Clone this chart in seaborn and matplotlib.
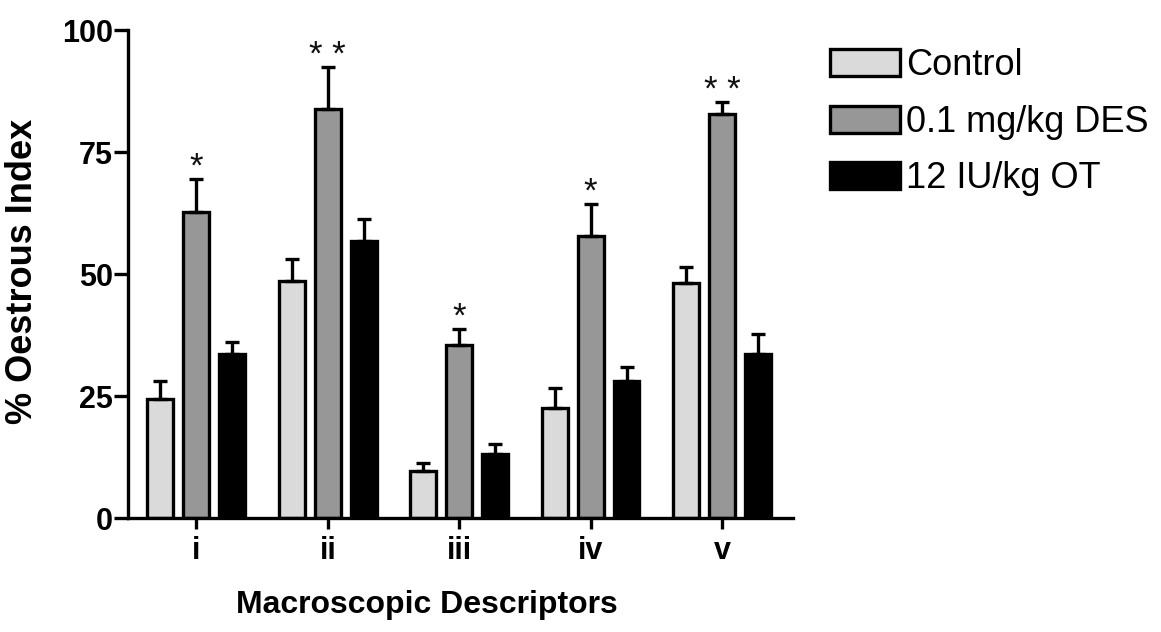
import matplotlib
matplotlib.use("Agg")
import matplotlib.pyplot as plt
from matplotlib.container import BarContainer
import seaborn as sns
import pandas as pd

# ---- data ----
categories = ["i", "ii", "iii", "iv", "v"]
groups = ["Control", "0.1 mg/kg DES", "12 IU/kg OT"]
control = [24.4, 48.6, 9.6, 22.5, 48.2]
control_err = [3.7, 4.5, 1.7, 4.1, 3.2]
des = [62.7, 83.8, 35.5, 57.8, 82.8]
des_err = [6.8, 8.6, 3.2, 6.5, 2.4]
ot = [33.6, 56.8, 13.1, 28.1, 33.6]
ot_err = [2.5, 4.5, 2.1, 2.8, 4.1]
des_stars = ["*", "**", "*", "*", "**"]
yticks = [0, 25, 50, 75, 100]

sns.set_style("ticks")
plt.rcParams["font.family"] = ["Liberation Sans", "DejaVu Sans"]
plt.rcParams["text.color"] = "black"
plt.rcParams["axes.labelcolor"] = "black"

values = [control, des, ot]
errors = [control_err, des_err, ot_err]
rows = []
for g, vals in zip(groups, values):
    for c, v in zip(categories, vals):
        rows.append({"descriptor": c, "group": g, "value": v})
df = pd.DataFrame(rows)

palette = {"Control": "#dadada", "0.1 mg/kg DES": "#979797", "12 IU/kg OT": "#000000"}

W, H = 1161, 632
fig = plt.figure(figsize=(W / 100, H / 100), dpi=100)
ax = fig.add_axes([128 / W, 1 - 518 / H, (793 - 128) / W, (518 - 30) / H])

lw = 2.4
sns.barplot(data=df, x="descriptor", y="value", hue="group", order=categories,
            hue_order=groups, palette=palette, edgecolor="black", linewidth=lw,
            width=0.82, gap=0.28, errorbar=None, ax=ax, legend=True)

bar_containers = [c for c in ax.containers if isinstance(c, BarContainer)]

# error bars (upper only) and significance stars
for gi, cont in enumerate(bar_containers):
    for bi, patch in enumerate(cont.patches):
        xc = patch.get_x() + patch.get_width() / 2
        h = patch.get_height()
        e = errors[gi][bi]
        ax.errorbar([xc], [h], yerr=[[0], [e]], fmt="none", ecolor="black",
                    elinewidth=lw, capsize=4.8, capthick=lw, zorder=1)
        if gi == 1:
            ax.text(xc, h + e + 0.5, " ".join(des_stars[bi]), ha="center",
                    va="baseline", fontsize=25, color="#111111")

ax.set_ylim(0, 100)
ax.set_xlim(-0.52, 4.54)
ax.set_yticks(yticks)
ax.set_yticklabels([str(t) for t in yticks], fontsize=22, fontweight="bold")
ax.set_xticks(range(len(categories)))
ax.set_xticklabels(categories, fontsize=22, fontweight="bold")
ax.tick_params(axis="y", length=10, width=lw, pad=1, colors="black")
ax.tick_params(axis="x", length=8, width=lw, pad=5, colors="black")
for s in ["top", "right"]:
    ax.spines[s].set_visible(False)
for s in ["left", "bottom"]:
    ax.spines[s].set_linewidth(lw)
    ax.spines[s].set_color("black")

ax.set_xlabel("Macroscopic Descriptors", fontsize=23, fontweight="bold", color="black")
ax.set_ylabel("% Oestrous Index", fontsize=26, fontweight="bold", color="black")
ax.xaxis.set_label_coords(0.45, -0.148)
ax.yaxis.set_label_coords(-0.133, 0.506)

handles, labels = ax.get_legend_handles_labels()
ax.get_legend().remove()
leg = fig.legend(handles, labels, loc="upper left",
                 bbox_to_anchor=(830 / W, 1 - 48 / H), frameon=False,
                 fontsize=26, handlelength=1.95, handleheight=0.78,
                 handletextpad=0.15, labelspacing=0.6, borderpad=0,
                 borderaxespad=0, labelcolor="black")

fig.savefig("out.png", dpi=100)
